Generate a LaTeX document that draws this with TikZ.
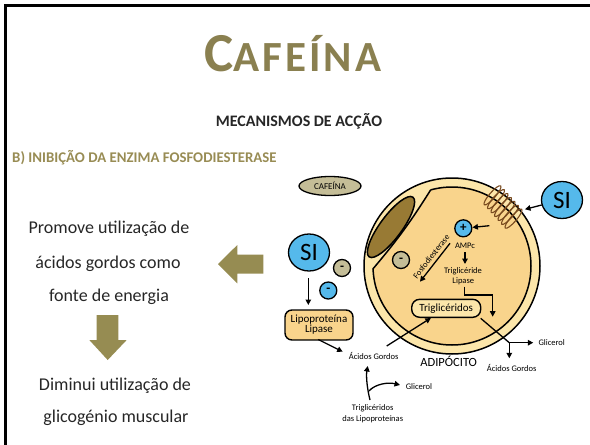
\documentclass[tikz,border=0pt]{standalone}
\usepackage{fontspec}
\setmainfont{Carlito}
\usetikzlibrary{arrows.meta,shapes.geometric}
\newcommand\fsz[1]{\fontsize{#1}{#1}\selectfont}
\definecolor{olivetxt}{RGB}{138,128,80}
\definecolor{olivehd}{RGB}{152,140,84}
\definecolor{olivearr}{RGB}{150,140,82}
\definecolor{tan}{RGB}{196,189,151}
\definecolor{skyb}{RGB}{85,185,235}
\definecolor{ringcol}{RGB}{252,230,170}
\definecolor{cytocol}{RGB}{249,212,140}
\definecolor{nuccol}{RGB}{152,122,52}
\definecolor{coilcol}{RGB}{120,74,30}
\definecolor{darktxt}{RGB}{38,38,38}
\begin{document}
\begin{tikzpicture}[x=1pt,y=-1pt,
  every node/.style={inner sep=0pt},
  arr/.style={line width=1.3pt,-{Triangle[length=5.5pt,width=5.5pt]}},
  lbl/.style={font=\fsz{8.5}},
  sidetxt/.style={font=\fsz{18},text=darktxt,anchor=base},
  bigarrow/.style={fill=olivearr},
  badge/.style={circle,draw,line width=1.3pt,minimum size=17pt,font=\bfseries\fsz{13}},
  sibadge/.style={ellipse,draw,line width=1.3pt,fill=skyb,minimum width=41pt,minimum height=37pt,font=\fsz{25}},
  pill/.style={draw,line width=1.4pt,rounded corners=8pt,fill=ringcol,minimum width=69pt,minimum height=18pt,font=\fsz{11}},
  coil/.style={ellipse,draw=coilcol,line width=1.1pt,minimum width=25pt,minimum height=6pt}]
\useasboundingbox (0,0) rectangle (590,445);

% slide frame
\draw[line width=3pt] (5.5,445) -- (5.5,5.5) -- (590,5.5);

% headings
\node[anchor=base,text=olivetxt,font=\bfseries] (title) at (293,71) {\addfontfeature{LetterSpace=7}\fsz{55}C\fsz{43}AFEÍNA};
\node[anchor=base,text=darktxt,font=\bfseries\fsz{16}] (subtitle) at (299,126) {MECANISMOS DE ACÇÃO};
\node[anchor=base west,text=olivehd,font=\bfseries\fsz{14.8}] (section) at (12,162) {B) INIBIÇÃO DA ENZIMA FOSFODIESTERASE};

% consequences on the left
\node[sidetxt] (l1) at (109,233) {Promove utilização de};
\node[sidetxt] (l2) at (108,268) {ácidos gordos como};
\node[sidetxt] (l3) at (109,301) {fonte de energia};
\node[sidetxt] (l4) at (115,390) {Diminui utilização de};
\node[sidetxt] (l5) at (116,422) {glicogénio muscular};

\fill[bigarrow] (218,264) -- (237.3,245) -- (237.3,254.5) -- (263.3,254.5) -- (263.3,273.5) -- (237.3,273.5) -- (237.3,283.3) -- cycle;
\fill[bigarrow] (96.7,315) -- (118.3,315) -- (118.3,340) -- (126.7,340) -- (107.7,360) -- (89.3,340) -- (96.7,340) -- cycle;

% adipocyte: membrane ring, cytoplasm and nucleus
\coordinate (cc) at (452,266);
\draw[line width=1.5pt,fill=ringcol] (cc) circle (88);
\coordinate (mA) at (430.6,190);
\coordinate (mB) at (373,268.8);
\begin{scope}
  \clip (mA) to[bend left=4] (mB) -- (340,268.8) -- (340,380) -- (560,380) -- (560,160) -- (430.6,160) -- cycle;
  \fill[cytocol] (cc) circle (79);
  \draw[line width=1.5pt] (cc) circle (79);
\end{scope}
\draw[line width=1.5pt,line cap=round] (mA) to[bend left=4] (mB);
\node[ellipse,draw,line width=1.5pt,fill=nuccol,minimum width=74pt,minimum height=22pt,rotate=53.7] (nucleus) at (391,227) {};

% receptor coil crossing the membrane
\foreach \k in {-3,...,3}
  \node[coil,rotate=49] (coil\k) at ({503+3.5*\k},{207+3.9*\k}) {};

% caffeine label
\node[ellipse,draw,line width=1.3pt,fill=tan,minimum width=62pt,minimum height=19pt,font=\fsz{9}] (caf) at (330,186) {CAFEÍNA};

% SI badges and signs
\node[sibadge] (siR) at (562,200) {SI};
\node[sibadge] (siL) at (309,252.5) {SI};
\node[badge,fill=tan] (minusA) at (342,268) {-};
\node[badge,fill=skyb] (minusB) at (328.3,290.5) {-};
\node[badge,fill=tan] (minusC) at (401,260) {-};
\node[badge,fill=skyb] (plus) at (463.3,228.3) {+};

% labels inside the cell
\node[lbl,anchor=base] (ampc) at (465,248.3) {AMPc};
\node[lbl,anchor=base] (tgl1) at (463,273.3) {Triglicéride};
\node[lbl,anchor=base] (tgl2) at (463.3,283.3) {Lipase};
\node[pill] (tg) at (446.2,308.3) {Triglicéridos};

% labels outside the cell
\node[draw,line width=1.4pt,rounded corners=7pt,fill=cytocol,minimum width=68pt,minimum height=30pt,align=center,font=\fsz{11}] (lpl) at (319,325) {Lipoproteína\\[-1pt]Lipase};
\node[lbl,anchor=base] (agL) at (373.7,359) {Ácidos Gordos};
\node[lbl,anchor=base] (agR) at (511.7,371.7) {Ácidos Gordos};
\node[lbl,anchor=base] (gliR) at (551.7,345) {Glicerol};
\node[lbl,anchor=base] (gliB) at (419,389) {Glicerol};
\node[font=\fsz{12.5},anchor=base] (adip) at (448.7,366) {ADIPÓCITO};
\node[lbl,anchor=base] (tglp1) at (372.7,410.7) {Triglicéridos};
\node[lbl,anchor=base] (tglp2) at (372.7,421) {das Lipoproteínas};

% connector ends
\coordinate (rcIn) at (489.3,225.7);
\coordinate (rcOut) at (525,209.3);
\coordinate (siOut) at (541.7,205);
\coordinate (pdeStart) at (450,243.3);
\coordinate (pdeEnd) at (420,281.7);
\coordinate (ampcOut) at (465,252);
\coordinate (lipIn) at (465,264);
\coordinate (lipOut) at (464.3,286.5);
\coordinate (bend1) at (464.3,295);
\coordinate (bend2) at (492.7,295);
\coordinate (tgIn) at (492.7,316.7);
\coordinate (siLOut) at (308.3,278.3);
\coordinate (lplIn) at (308.3,305);
\coordinate (lplOut) at (318.3,339.5);
\coordinate (agLIn) at (342.7,351.7);
\coordinate (agLOut) at (386.7,346);
\coordinate (tgOut) at (480.7,318.3);
\coordinate (split) at (509.3,342.7);
\coordinate (gliRIn) at (533.3,342.7);
\coordinate (agRIn) at (509.3,358.3);
\coordinate (curveTop) at (367.7,366);
\coordinate (curveBot) at (370,400);
\coordinate (branch) at (369,391);
\coordinate (gliBIn) at (400,385);

% signalling arrows
\draw[arr] (siOut) -- (rcOut);
\draw[arr] (rcIn) -- (plus);
\draw[arr] (pdeStart) -- node[lbl,sloped,above=3pt,pos=0.45] (pde) {Fosfodiesterase} (pdeEnd);
\draw[arr] (ampcOut) -- (lipIn);
\draw[arr] (lipOut) -- (bend1) -- (bend2) -- (tgIn);
\draw[arr] (siLOut) -- (lplIn);
\draw[arr] (lplOut) -- (agLIn);
\draw[arr] (agLOut) -- (tg);
\draw[line width=1.3pt] (tgOut) -- (split);
\draw[arr] (split) -- (gliRIn);
\draw[arr] (split) -- (agRIn);
\draw[arr] (curveBot) .. controls (367,388) and (366,376) .. (curveTop);
\draw[arr] (branch) .. controls (375,384) and (388,382) .. (gliBIn);
\end{tikzpicture}
\end{document}
